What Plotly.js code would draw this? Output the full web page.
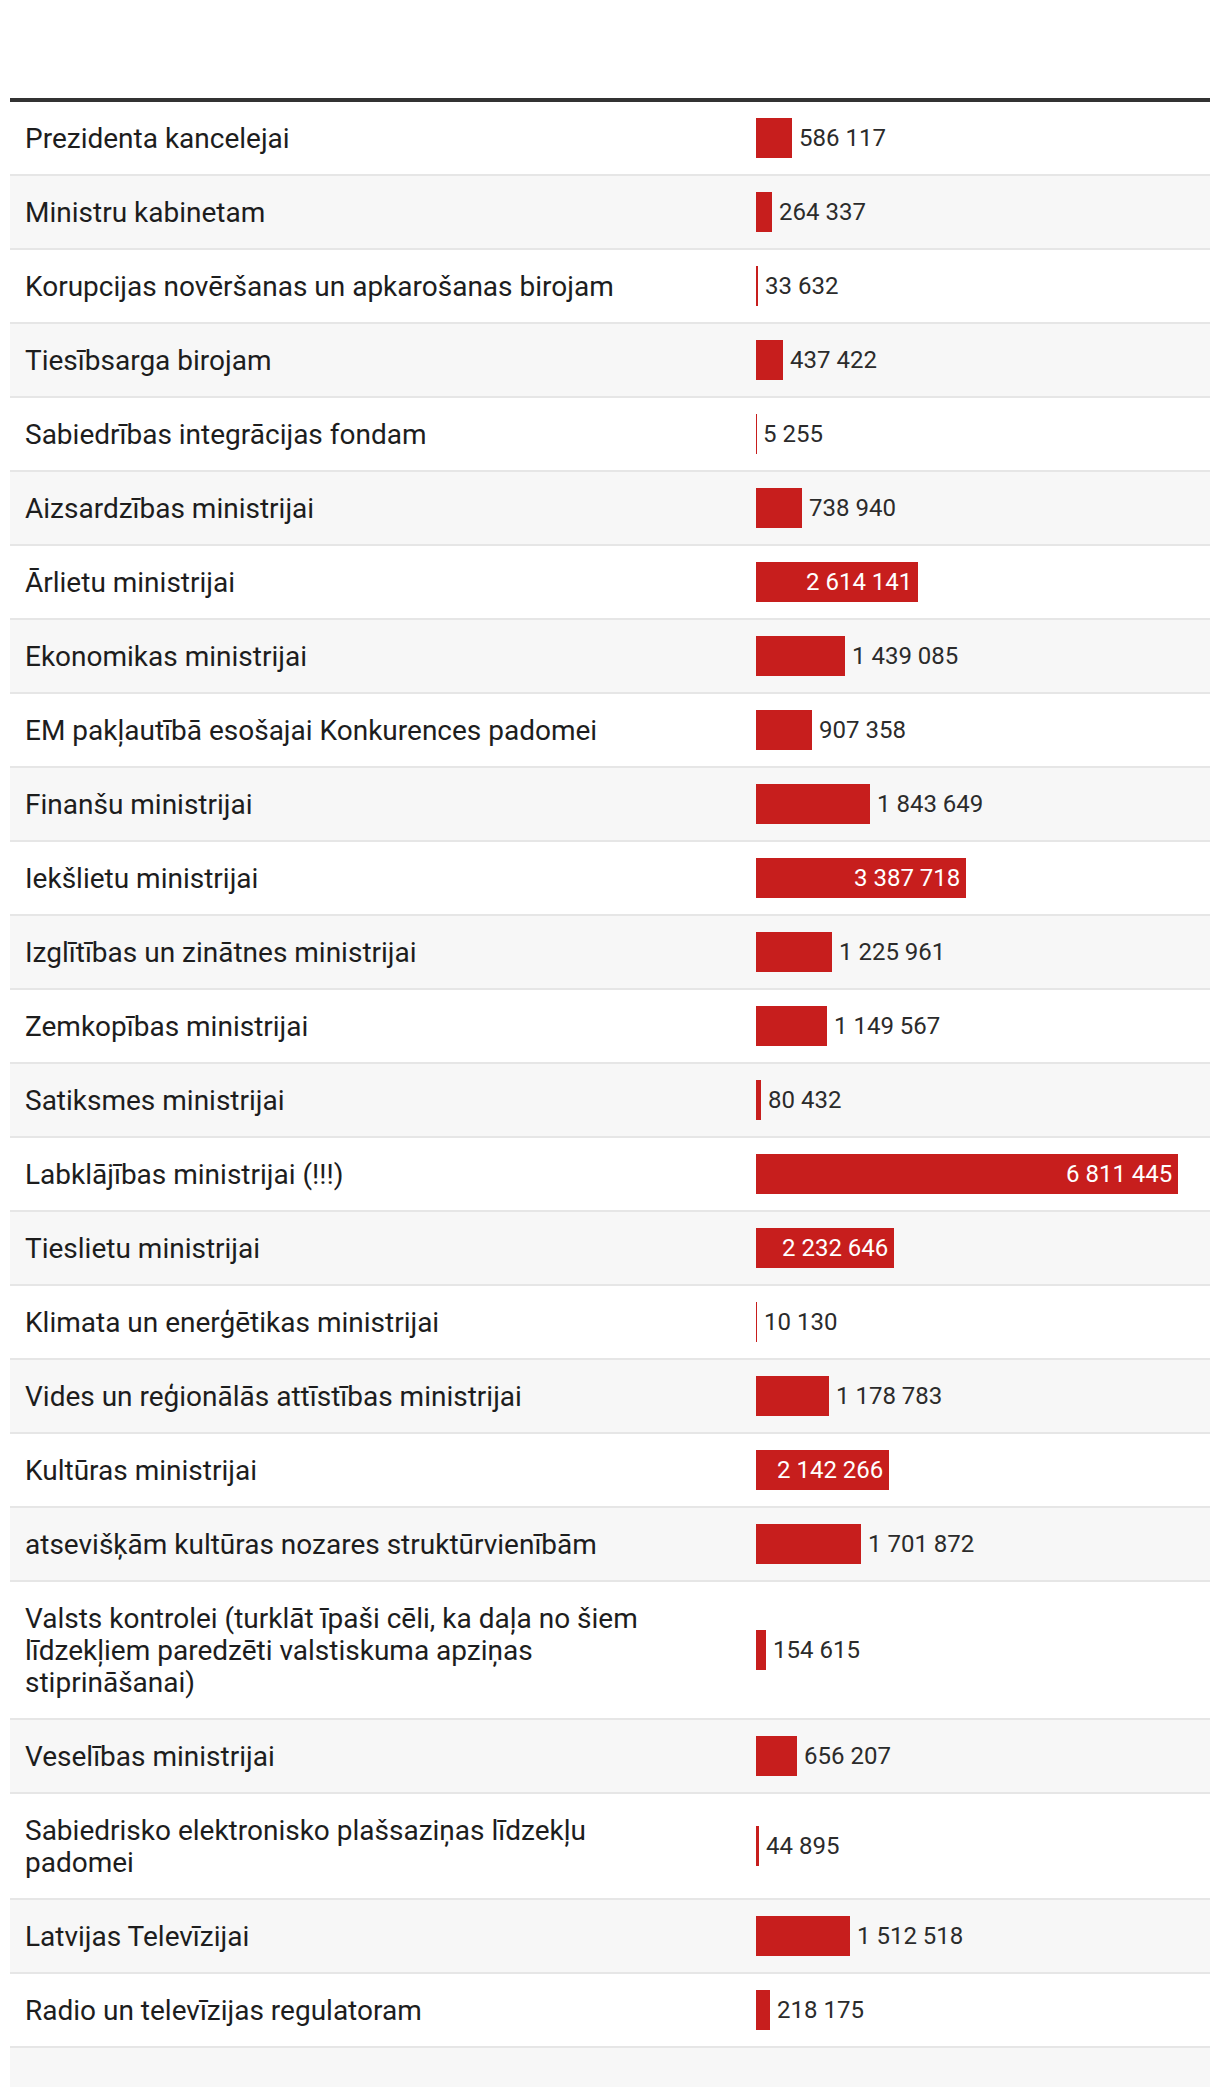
<!DOCTYPE html>
<html>
<head>
<meta charset="utf-8">
<script src="https://cdn.plot.ly/plotly-3.0.1.min.js"></script>
<style>
  html, body { margin: 0; padding: 0; background: #ffffff; }
  #chart { width: 1220px; height: 2098px; }
</style>
</head>
<body>
<div id="chart"></div>
<script>
// ---- data ----
const recipients = [
  "Prezidenta kancelejai",
  "Ministru kabinetam",
  "Korupcijas novēršanas un apkarošanas birojam",
  "Tiesībsarga birojam",
  "Sabiedrības integrācijas fondam",
  "Aizsardzības ministrijai",
  "Ārlietu ministrijai",
  "Ekonomikas ministrijai",
  "EM pakļautībā esošajai Konkurences padomei",
  "Finanšu ministrijai",
  "Iekšlietu ministrijai",
  "Izglītības un zinātnes ministrijai",
  "Zemkopības ministrijai",
  "Satiksmes ministrijai",
  "Labklājības ministrijai (!!!)",
  "Tieslietu ministrijai",
  "Klimata un enerģētikas ministrijai",
  "Vides un reģionālās attīstības ministrijai",
  "Kultūras ministrijai",
  "atsevišķām kultūras nozares struktūrvienībām",
  "Valsts kontrolei (turklāt īpaši cēli, ka daļa no šiem<br>līdzekļiem paredzēti valstiskuma apziņas<br>stiprināšanai)",
  "Veselības ministrijai",
  "Sabiedrisko elektronisko plašsaziņas līdzekļu<br>padomei",
  "Latvijas Televīzijai",
  "Radio un televīzijas regulatoram"
];
const amounts = [
  586117, 264337, 33632, 437422, 5255, 738940, 2614141, 1439085, 907358,
  1843649, 3387718, 1225961, 1149567, 80432, 6811445, 2232646, 10130,
  1178783, 2142266, 1701872, 154615, 656207, 44895, 1512518, 218175
];

// ---- styling constants ----
const W = 1220, H = 2098;
const RED = "#c71e1d";
const TEXT = "#1d1d1d";
const VALTEXT = "#2b2b2b";
const ROW_GRAY = "#f7f7f7";
const SEP = "#e6e6e6";
const TABLE_LEFT = 10, TABLE_RIGHT = 1210;
const TABLE_TOP = 102;            // just below the heavy rule
const BASE_ROW = 74, LINE_STEP = 32, SEP_W = 2;
const BAR_LEFT = 756, BAR_RIGHT = 1178;
const BAR_THICK = 40;
const INSIDE_MIN = 2000000;       // labels go inside bars from this size up
const LABEL_X = 23;
const FONT = "Roboto, 'Noto Sans', sans-serif";

function fmt(v) {
  return String(v).replace(/\B(?=(\d{3})+(?!\d))/g, " ");
}

// ---- layout of rows (pixel units on the y axis) ----
const rowTops = [], rowHeights = [], rowCenters = [];
let cursor = TABLE_TOP;
recipients.forEach(r => {
  const n = r.split("<br>").length;
  const h = BASE_ROW + LINE_STEP * (n - 1);
  rowTops.push(cursor);
  rowHeights.push(h);
  rowCenters.push(cursor + (h - SEP_W) / 2);
  cursor += h;
});
const footerTop = cursor, footerBottom = cursor + 39;

const shapes = [];
// heavy top rule
shapes.push({type: "rect", xref: "paper", yref: "y",
  x0: TABLE_LEFT / W, x1: TABLE_RIGHT / W, y0: 98, y1: 102,
  fillcolor: "#333333", line: {width: 0}, layer: "below"});
recipients.forEach((r, i) => {
  if (i % 2 === 1) {
    shapes.push({type: "rect", xref: "paper", yref: "y",
      x0: TABLE_LEFT / W, x1: TABLE_RIGHT / W,
      y0: rowTops[i], y1: rowTops[i] + rowHeights[i] - SEP_W,
      fillcolor: ROW_GRAY, line: {width: 0}, layer: "below"});
  }
  shapes.push({type: "rect", xref: "paper", yref: "y",
    x0: TABLE_LEFT / W, x1: TABLE_RIGHT / W,
    y0: rowTops[i] + rowHeights[i] - SEP_W, y1: rowTops[i] + rowHeights[i],
    fillcolor: SEP, line: {width: 0}, layer: "below"});
});
// empty footer row
shapes.push({type: "rect", xref: "paper", yref: "y",
  x0: TABLE_LEFT / W, x1: TABLE_RIGHT / W, y0: footerTop, y1: footerBottom,
  fillcolor: ROW_GRAY, line: {width: 0}, layer: "below"});

const annotations = [];
recipients.forEach((r, i) => {
  const lines = r.split("<br>");
  lines.forEach((ln, k) => {
    annotations.push({
      xref: "paper", yref: "y", x: LABEL_X / W,
      y: rowCenters[i] + (k - (lines.length - 1) / 2) * LINE_STEP,
      text: ln, showarrow: false, xanchor: "left", yanchor: "middle",
      font: {family: FONT, size: 28, color: TEXT}
    });
  });
  const inside = amounts[i] >= INSIDE_MIN;
  annotations.push({
    xref: "x", yref: "y", x: amounts[i], y: rowCenters[i],
    text: fmt(amounts[i]), showarrow: false,
    xanchor: inside ? "right" : "left", yanchor: "middle",
    xshift: inside ? -4 : 5,
    font: {family: FONT, size: 24, color: inside ? "#ffffff" : VALTEXT}
  });
});

const maxVal = Math.max(...amounts);

const trace = {
  type: "bar", orientation: "h",
  x: amounts, y: rowCenters, width: BAR_THICK,
  marker: {color: RED, line: {width: 0}},
  hoverinfo: "skip"
};

const layout = {
  width: W, height: H,
  margin: {l: 0, r: 0, t: 0, b: 0, pad: 0},
  paper_bgcolor: "#ffffff", plot_bgcolor: "rgba(0,0,0,0)",
  showlegend: false,
  separators: ", ",
  hovermode: false,
  dragmode: false,
  xaxis: {domain: [BAR_LEFT / W, BAR_RIGHT / W], range: [0, maxVal],
    visible: false, fixedrange: true},
  yaxis: {domain: [0, 1], range: [H, 0], visible: false, fixedrange: true},
  bargap: 0,
  shapes: shapes,
  annotations: annotations,
  font: {family: FONT}
};

Plotly.newPlot("chart", [trace], layout, {displayModeBar: false, responsive: false});
</script>
</body>
</html>
